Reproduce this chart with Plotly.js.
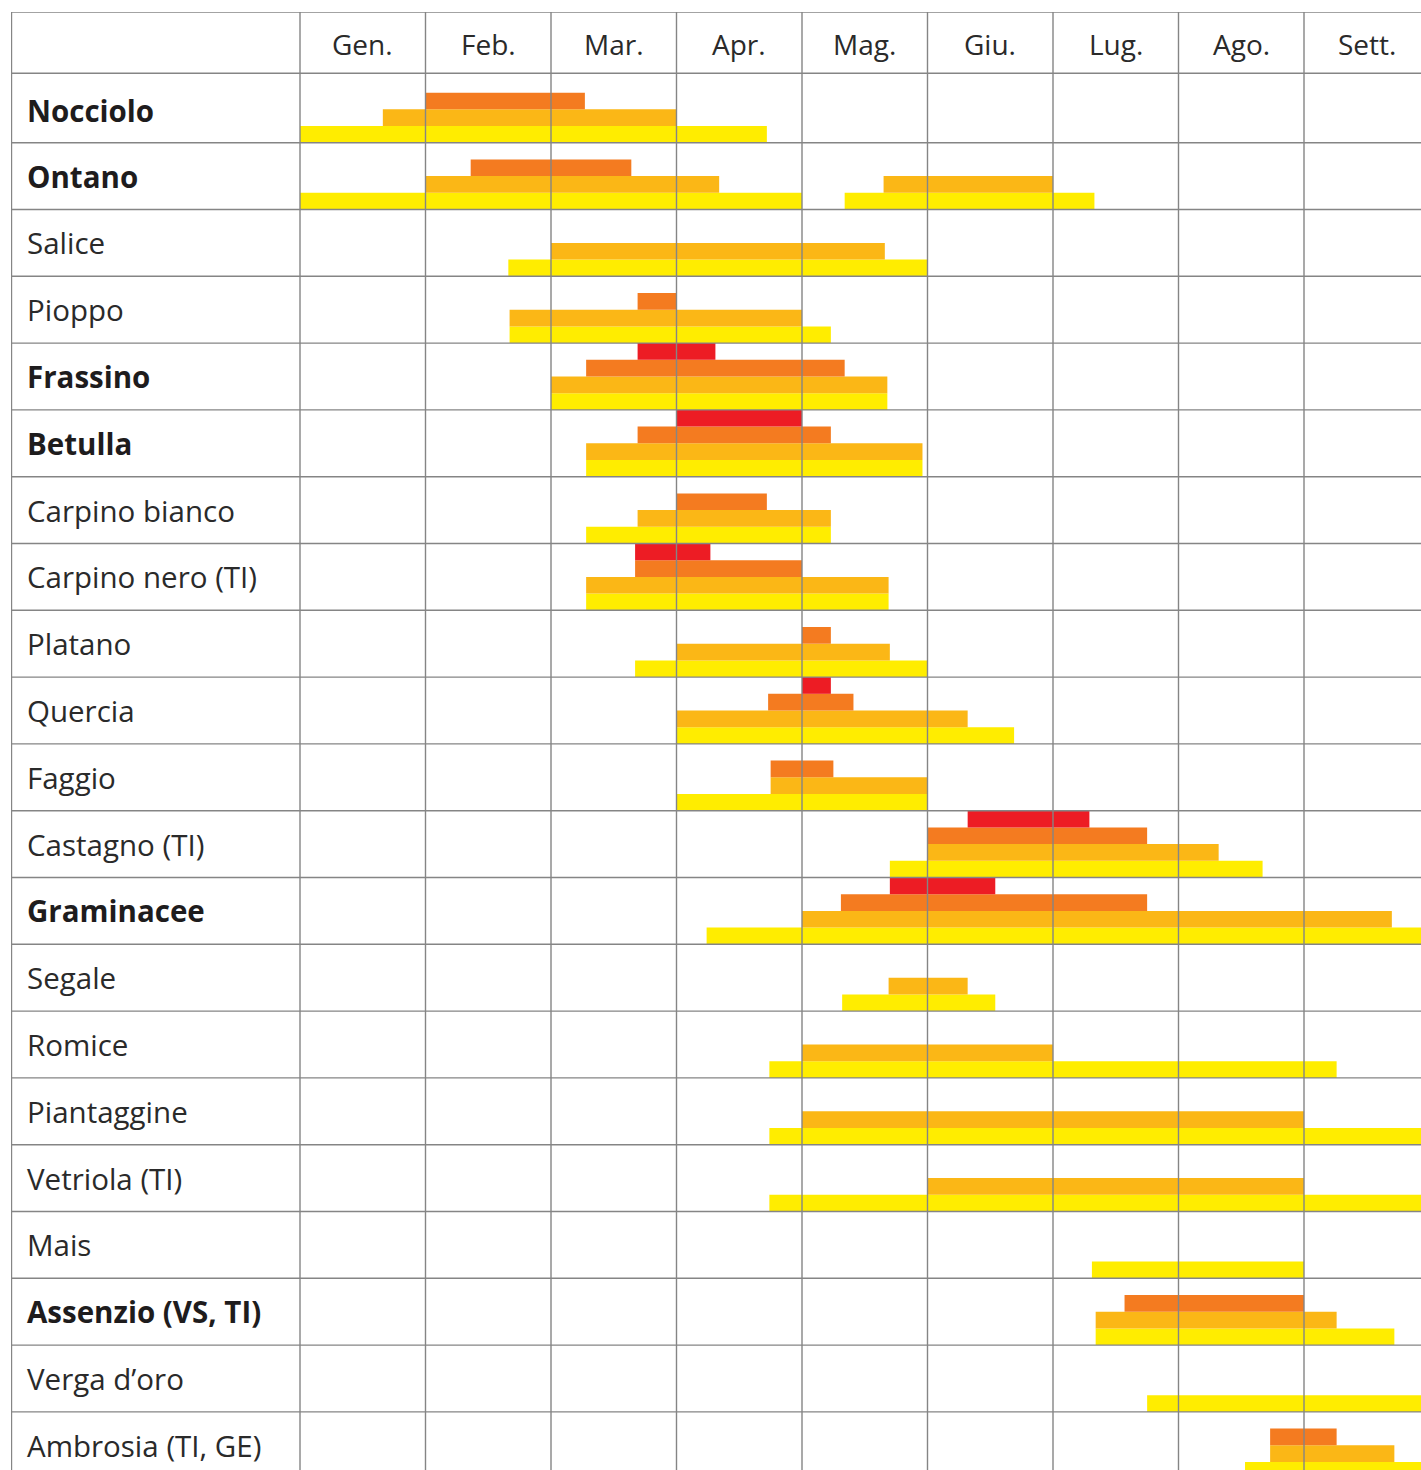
<!DOCTYPE html>
<html>
<head>
<meta charset="utf-8">
<script src="https://cdn.plot.ly/plotly-3.0.1.min.js"></script>
<style>html,body{margin:0;padding:0;background:#fff;}#chart{width:1421px;height:1470px;}</style>
</head>
<body>
<div id="chart"></div>
<script>
// ---- data ----
const months = ["Gen.", "Feb.", "Mar.", "Apr.", "Mag.", "Giu.", "Lug.", "Ago.", "Sett."];
const species = ["Nocciolo", "Ontano", "Salice", "Pioppo", "Frassino", "Betulla",
  "Carpino bianco", "Carpino nero (TI)", "Platano", "Quercia", "Faggio", "Castagno (TI)",
  "Graminacee", "Segale", "Romice", "Piantaggine", "Vetriola (TI)", "Mais",
  "Assenzio (VS, TI)", "Verga d\u2019oro", "Ambrosia (TI, GE)"];
const boldSpecies = ["Nocciolo", "Ontano", "Frassino", "Betulla", "Graminacee", "Assenzio (VS, TI)"];

// pollen intensity levels, segments as [species, start month, end month] (0 = start of January)
const weak = [ // yellow
  ["Nocciolo", 0, 3.72], ["Ontano", 0, 4.0], ["Ontano", 4.34, 6.33], ["Salice", 1.66, 5.0],
  ["Pioppo", 1.67, 4.23], ["Frassino", 2.0, 4.68], ["Betulla", 2.28, 4.96],
  ["Carpino bianco", 2.28, 4.23], ["Carpino nero (TI)", 2.28, 4.69], ["Platano", 2.67, 5.0],
  ["Quercia", 3.0, 5.69], ["Faggio", 3.0, 5.0], ["Castagno (TI)", 4.7, 7.67],
  ["Graminacee", 3.24, 9.1], ["Segale", 4.32, 5.54], ["Romice", 3.74, 8.26],
  ["Piantaggine", 3.74, 9.1], ["Vetriola (TI)", 3.74, 9.1], ["Mais", 6.31, 8.0],
  ["Assenzio (VS, TI)", 6.34, 8.72], ["Verga d\u2019oro", 6.75, 9.1], ["Ambrosia (TI, GE)", 7.53, 9.1]
];
const moderate = [ // orange-yellow
  ["Nocciolo", 0.66, 3.0], ["Ontano", 1.0, 3.34], ["Ontano", 4.65, 6.0], ["Salice", 2.0, 4.66],
  ["Pioppo", 1.67, 4.0], ["Frassino", 2.0, 4.68], ["Betulla", 2.28, 4.96],
  ["Carpino bianco", 2.69, 4.23], ["Carpino nero (TI)", 2.28, 4.69], ["Platano", 3.0, 4.7],
  ["Quercia", 3.0, 5.32], ["Faggio", 3.75, 5.0], ["Castagno (TI)", 5.0, 7.32],
  ["Graminacee", 4.0, 8.7], ["Segale", 4.69, 5.32], ["Romice", 4.0, 6.0],
  ["Piantaggine", 4.0, 8.0], ["Vetriola (TI)", 5.0, 8.0],
  ["Assenzio (VS, TI)", 6.34, 8.26], ["Ambrosia (TI, GE)", 7.73, 8.72]
];
const strong = [ // orange
  ["Nocciolo", 1.0, 2.27], ["Ontano", 1.36, 2.64], ["Pioppo", 2.69, 3.0],
  ["Frassino", 2.28, 4.34], ["Betulla", 2.69, 4.23], ["Carpino bianco", 3.0, 3.72],
  ["Carpino nero (TI)", 2.67, 4.0], ["Platano", 4.0, 4.23], ["Quercia", 3.73, 4.41],
  ["Faggio", 3.75, 4.25], ["Castagno (TI)", 5.0, 6.75], ["Graminacee", 4.31, 6.75],
  ["Assenzio (VS, TI)", 6.57, 8.0], ["Ambrosia (TI, GE)", 7.73, 8.26]
];
const veryStrong = [ // red
  ["Frassino", 2.69, 3.31], ["Betulla", 3.0, 4.0], ["Carpino nero (TI)", 2.67, 3.27],
  ["Quercia", 4.0, 4.23], ["Castagno (TI)", 5.32, 6.29], ["Graminacee", 4.7, 5.54]
];

const levels = [
  {name: "debole", segs: weak, color: "#FFED00"},
  {name: "moderato", segs: moderate, color: "#FBB716"},
  {name: "forte", segs: strong, color: "#F47B20"},
  {name: "molto forte", segs: veryStrong, color: "#ED1C24"}
];

// ---- layout geometry ----
const LEVEL_H = 0.25;           // each level is a quarter of a row
const X_MIN = (11 - 300) / 125.5, X_MAX = (1421 - 300) / 125.5;
const HEADER_TOP = -0.957, HEADER_BOTTOM = -0.039, Y_BOTTOM = 20.87;

const traces = levels.map((lv, k) => ({
  type: "bar",
  orientation: "h",
  name: lv.name,
  y: lv.segs.map(s => species.indexOf(s[0]) + 1 - (k + 0.5) * LEVEL_H),
  base: lv.segs.map(s => s[1]),
  x: lv.segs.map(s => s[2] - s[1]),
  width: LEVEL_H,
  marker: {color: lv.color, line: {width: 0}},
  hoverinfo: "skip",
  showlegend: false
}));

const gridColor = "#858585";
const shapes = [];
// vertical lines: left border + month boundaries
[X_MIN + 0.004].concat(months.map((m, i) => i)).forEach(x => {
  shapes.push({type: "line", xref: "x", yref: "y", x0: x, x1: x, y0: HEADER_TOP, y1: Y_BOTTOM,
    line: {color: gridColor, width: 1.4}, layer: "above"});
});
// horizontal lines
const hLines = [HEADER_TOP, HEADER_BOTTOM].concat(species.slice(1).map((s, i) => i + 1));
hLines.forEach(y => {
  shapes.push({type: "line", xref: "x", yref: "y", x0: X_MIN, x1: X_MAX, y0: y, y1: y,
    line: {color: gridColor, width: 1.4}, layer: "above"});
});

const annotations = [];
months.forEach((m, i) => {
  annotations.push({x: i + 0.5, y: -0.475, xref: "x", yref: "y", text: m, showarrow: false,
    xanchor: "center", yanchor: "middle", font: {family: "Open Sans", size: 28, color: "#2a2a2a"}});
});
species.forEach((s, i) => {
  const isBold = boldSpecies.includes(s);
  const yc = i === 0 ? (HEADER_BOTTOM + 1) / 2 + 0.03 : i + 0.5;
  annotations.push({x: (25 - 300) / 125.5, y: yc, xref: "x", yref: "y",
    text: isBold ? "<b>" + s + "</b>" : s, showarrow: false,
    xanchor: "left", yanchor: "middle",
    font: {family: "Open Sans", size: 29.5, color: isBold ? "#1e1c1d" : "#2a2a2a"}});
});

const layout = {
  width: 1421, height: 1470,
  margin: {l: 11, r: 0, t: 12, b: 0, pad: 0},
  paper_bgcolor: "#ffffff", plot_bgcolor: "#ffffff",
  barmode: "overlay",
  xaxis: {range: [X_MIN, X_MAX], showgrid: false, zeroline: false, showticklabels: false, ticks: "", showline: false, fixedrange: true},
  yaxis: {range: [Y_BOTTOM, HEADER_TOP], showgrid: false, zeroline: false, showticklabels: false, ticks: "", showline: false, fixedrange: true},
  shapes: shapes,
  annotations: annotations,
  showlegend: false
};

Plotly.newPlot("chart", traces, layout, {displayModeBar: false, staticPlot: true});
</script>
</body>
</html>
